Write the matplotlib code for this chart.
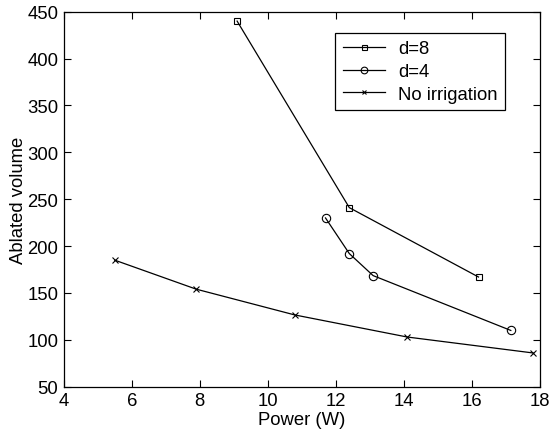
import matplotlib
matplotlib.use("Agg")
import matplotlib.pyplot as plt

x_d8 = [9.1, 12.4, 16.2]
y_d8 = [440, 241, 167]
x_d4 = [11.7, 12.4, 13.1, 17.15]
y_d4 = [230, 192, 168.5, 110]
x_no = [5.5, 7.9, 10.8, 14.1, 17.8]
y_no = [185, 154, 126.5, 103, 86]
labels = ["d=8", "d=4", "No irrigation"]
xticks = [4, 6, 8, 10, 12, 14, 16, 18]
yticks = [50, 100, 150, 200, 250, 300, 350, 400, 450]

plt.rcParams['font.family'] = ['Liberation Sans', 'DejaVu Sans']
fig = plt.figure(figsize=(5.51, 4.31), dpi=100)
ax = fig.add_axes([0.1156, 0.1005, 0.9795 - 0.1156, 0.9705 - 0.1005])

fs = 13.3
lw = 0.9
ax.plot(x_d8, y_d8, color='black', lw=lw, marker='s', ms=4.5, mfc='none', mew=0.8, label=labels[0])
ax.plot(x_d4, y_d4, color='black', lw=lw, marker='o', ms=6, mfc='none', mew=0.8, label=labels[1])
ax.plot(x_no, y_no, color='black', lw=lw, marker='x', ms=4, mew=0.8, label=labels[2])

ax.set_xlim(4, 18)
ax.set_ylim(50, 450)
ax.set_xticks(xticks)
ax.set_yticks(yticks)
ax.tick_params(direction='in', length=5, width=0.8, top=True, right=True, labelsize=fs, pad=4)
for s in ax.spines.values():
    s.set_linewidth(0.9)
ax.set_xlabel("Power (W)", fontsize=fs, labelpad=1.5)
ax.set_ylabel("Ablated volume", fontsize=fs, labelpad=0)

leg = ax.legend(loc='upper right', bbox_to_anchor=(0.927, 0.943), borderaxespad=0,
                fancybox=False, edgecolor='black', framealpha=1, fontsize=fs,
                handlelength=2.3, labelspacing=0.3, borderpad=0.4, handletextpad=0.7,
                markerscale=0.8)
leg.get_frame().set_linewidth(0.9)

fig.savefig("out.png", dpi=100)
